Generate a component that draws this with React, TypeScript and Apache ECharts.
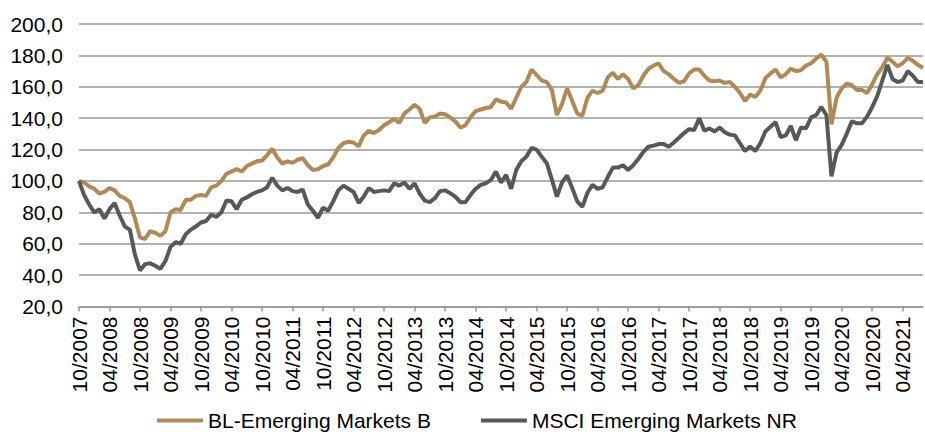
import React, { useEffect, useRef } from "react";
import * as echarts from "echarts";

// Monthly categories from 10/2007 to 08/2021
const startYear = 2007;
const startMonth = 10;
const monthCount = 167;
const categories: string[] = [];
for (let i = 0; i < monthCount; i++) {
  const mm = ((startMonth - 1 + i) % 12) + 1;
  const yy = startYear + Math.floor((startMonth - 1 + i) / 12);
  categories.push((mm < 10 ? "0" : "") + mm + "/" + yy);
}

const blEmergingMarketsB: number[] = [
  100, 99, 96.5, 95, 92, 93, 95.5, 94, 90.5, 89, 86.5, 76, 64, 63, 68, 67, 65, 68,
  80, 82, 81.5, 88, 88, 90.5, 91, 90.5, 96, 97, 100, 104.5, 106, 107.5, 106, 109.5,
  111, 112.5, 113, 116.5, 120.5, 115, 111, 112.5, 111.5, 113.5, 114.5, 110, 107, 107.5,
  109.5, 110.5, 115, 121, 124, 125, 124.5, 122, 129, 132, 130.5, 132.5, 135.5, 137.5,
  139.5, 137, 143, 145.5, 148.5, 146, 137, 140.5, 141, 143, 142.5, 140.5, 138, 134,
  135.5, 140.5, 144.5, 145.5, 146.5, 147, 152, 150.5, 150, 146, 153, 160, 163, 171,
  167.5, 164, 163, 158, 142, 149, 159, 151, 143, 141.5, 153, 157.5, 156, 157.5, 166,
  169, 165, 168, 165, 159, 161, 167, 171.5, 173.5, 175, 170, 168, 165, 162.5, 163.5,
  168.5, 171, 171, 167, 164, 163.5, 164, 162.5, 163, 160, 156, 151, 155, 153.5, 157.5,
  165.5, 168.5, 171, 166, 168, 171.5, 170, 170.5, 173.5, 175, 178, 180.5, 176, 136,
  153, 159, 162, 161, 158, 158, 156, 161.5, 168, 172.5, 178.5, 176, 173, 175, 178.5,
  176.5, 174, 172,
];

const msciEmergingMarketsNR: number[] = [
  100, 91, 85, 80, 82, 76, 82, 86, 78, 71, 69, 53, 43, 47, 47.5, 46, 44, 49, 58, 61,
  60, 66, 69, 71, 73.5, 74.5, 78.5, 77, 80, 87.5, 87, 82, 88, 89.5, 91.5, 93, 94, 96,
  102, 97, 94, 95.5, 93.5, 93, 94.5, 85, 81, 76.5, 83, 81, 87, 94, 97, 95, 93, 86, 90,
  95.5, 93, 93.5, 94, 93.5, 98.5, 97, 99, 95, 98.5, 92, 87.5, 86.5, 89, 93.5, 94, 92.2,
  90, 86.5, 86.5, 91, 95, 97.5, 98.5, 100.5, 106, 99, 103.8, 95, 107, 112.5, 115.5,
  121, 120, 115.5, 111.3, 101, 90, 99, 103.5, 95.5, 87, 83.5, 92.5, 97.5, 95, 96,
  102.5, 108.5, 108.5, 110, 107, 110, 114, 118.5, 121.8, 122.5, 123.5, 123.5, 121.8,
  124.5, 127.5, 130.5, 133, 132.5, 140, 132, 133.5, 131.5, 134, 131, 129.5, 129, 124,
  119, 122, 119, 124, 131.5, 134.5, 137.5, 128, 129, 135, 126, 134, 133.5, 140.5, 142,
  147, 142, 103, 118, 123, 130, 138, 136.7, 136.7, 141, 147, 154, 164, 174, 165, 163,
  164, 170, 167, 163, 163,
];

const yTicks = { min: 20, max: 200, interval: 20 };
const seriesNames = ["BL-Emerging Markets B", "MSCI Emerging Markets NR"];
const seriesColors = ["#B08A55", "#585858"];

const FONT = 'Arial, "Liberation Sans", sans-serif';

export default function App() {
  const ref = useRef<HTMLDivElement>(null);
  useEffect(() => {
    if (!ref.current) return;
    const chart = echarts.init(ref.current, undefined, { renderer: "svg" });
    chart.setOption({
      animation: false,
      backgroundColor: "#ffffff",
      grid: { left: 79, right: 2, top: 24, bottom: 128.5, containLabel: false },
      legend: {
        data: seriesNames,
        left: 152,
        top: 405,
        icon: "rect",
        itemWidth: 46,
        itemHeight: 4,
        itemGap: 50,
        textStyle: { fontSize: 21, color: "#000", fontFamily: FONT },
      },
      xAxis: {
        type: "category",
        data: categories,
        boundaryGap: false,
        axisLine: { show: true, lineStyle: { color: "#999999", width: 1.5 } },
        axisTick: {
          show: true,
          interval: 5,
          length: 5,
          lineStyle: { color: "#999999", width: 1.5 },
        },
        axisLabel: {
          interval: 5,
          rotate: 90,
          fontSize: 21,
          color: "#000",
          fontFamily: FONT,
          margin: 10,
        },
        splitLine: { show: false },
      },
      yAxis: {
        type: "value",
        min: yTicks.min,
        max: yTicks.max,
        interval: yTicks.interval,
        axisLine: { show: false },
        axisTick: { show: false },
        axisLabel: {
          fontSize: 21,
          color: "#000",
          fontFamily: FONT,
          margin: 16,
          formatter: (v: number) => v.toFixed(1).replace(".", ","),
        },
        splitLine: { show: true, lineStyle: { color: "#999999", width: 1.5 } },
      },
      series: [
        {
          name: seriesNames[0],
          type: "line",
          data: blEmergingMarketsB,
          showSymbol: false,
          symbol: "none",
          color: seriesColors[0],
          lineStyle: { color: seriesColors[0], width: 4 },
        },
        {
          name: seriesNames[1],
          type: "line",
          data: msciEmergingMarketsNR,
          showSymbol: false,
          symbol: "none",
          color: seriesColors[1],
          lineStyle: { color: seriesColors[1], width: 4 },
        },
      ],
    });
    return () => chart.dispose();
  }, []);
  return (
    <div
      ref={ref}
      style={{ position: "fixed", left: 0, top: 0, width: 925, height: 435 }}
    />
  );
}
